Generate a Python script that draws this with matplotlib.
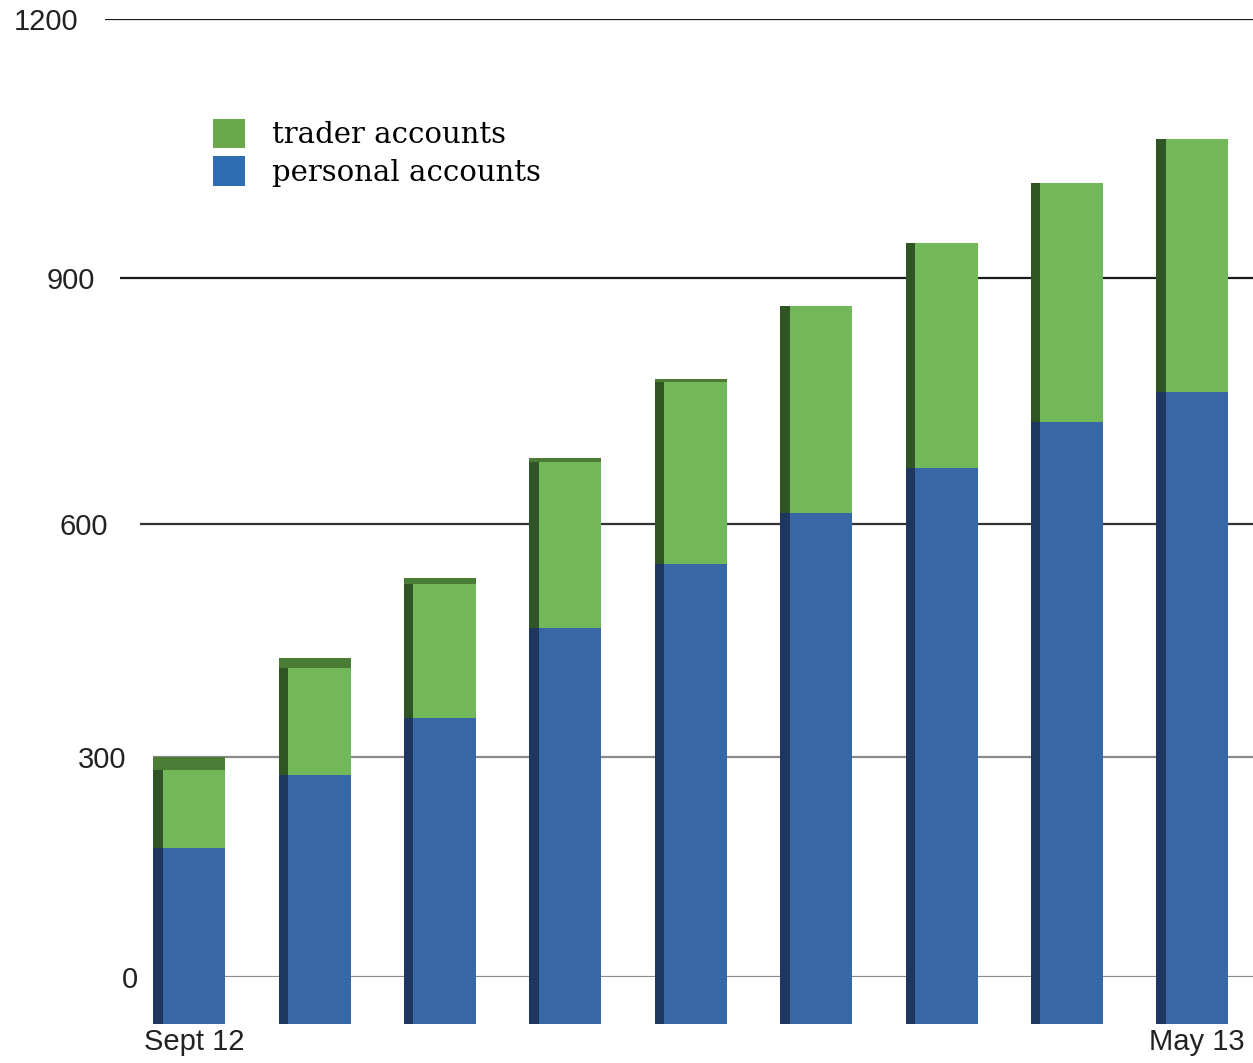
import numpy as np
import matplotlib
matplotlib.use('Agg')
import matplotlib.pyplot as plt
from matplotlib.patches import Patch

# monthly account counts, Sept 12 .. May 13
months = ['Sept 12', 'Oct 12', 'Nov 12', 'Dec 12', 'Jan 13',
          'Feb 13', 'Mar 13', 'Apr 13', 'May 13']
personal = [225, 316, 386, 494, 569, 629, 681, 734, 768]
trader = [97, 130, 160, 194, 210, 235, 253, 266, 280]

grid_vals = [0, 300, 600, 900, 1200]

# styling (perspective look of the original 3D chart)
label_right = [138, 126, 108, 95, 78]     # pixel x of tick label right edges
grid_start = [165, 153, 140, 120, 105]    # pixel x where each gridline starts
grid_colors = ['#8a8a8a', '#8a8a8a', '#333333', '#1a1a1a', '#1a1a1a']
cap_h = [16, 12, 7, 5, 4, 0, 0, 0, 0]     # visible top faces of the short bars

GREEN, BLUE = '#73b75b', '#3867a7'
DARK_GREEN, DARK_BLUE = '#2f5524', '#1d3760'
CAP_GREEN = '#4a7c36'

W, H = 1253, 1063


def fwd(v):
    u = np.asarray(v, dtype=float) / 300.0
    return 213.5 * u + 6.5 * u ** 2


def inv(y):
    y = np.asarray(y, dtype=float)
    return 300.0 * (-213.5 + np.sqrt(np.maximum(213.5 ** 2 + 26.0 * y, 0))) / 13.0


fig = plt.figure(figsize=(W / 100, H / 100), dpi=100)

# back wall: gridlines + value labels
ax_back = fig.add_axes([0, 86 / H, 1, fwd(1200) / H])
ax_back.set_yscale('function', functions=(fwd, inv))
ax_back.set_xlim(0, W)
ax_back.set_ylim(0, 1200)
ax_back.axis('off')
ax_back.hlines(grid_vals, grid_start, W, colors=grid_colors, lw=1.6)
for v, xr in zip(grid_vals, label_right):
    ax_back.text(xr, v, str(v), ha='right', va='center_baseline', fontsize=21,
                 family='Liberation Sans', color='#222222')

# front plane: the bars (a bit closer, so a slightly larger scale)
k = 1.073
ytop = 1100
x = np.arange(len(months))
unit = (1197 - 194) / 8.0
ax_front = fig.add_axes([0, 39 / H, 1, k * fwd(ytop) / H])
ax_front.set_yscale('function', functions=(fwd, inv))
ax_front.set_xlim(-194 / unit, (W - 194) / unit)
ax_front.set_ylim(0, ytop)
ax_front.patch.set_visible(False)
for s in ax_front.spines.values():
    s.set_visible(False)
ax_front.set_yticks([])

total = np.array(personal) + np.array(trader)
bw, sw = 0.5, 0.075
ax_front.bar(x - bw / 2 - sw / 2, personal, width=sw, color=DARK_BLUE, lw=0)
ax_front.bar(x - bw / 2 - sw / 2, trader, bottom=personal, width=sw, color=DARK_GREEN, lw=0)
ax_front.bar(x, personal, width=bw, color=BLUE, lw=0)
ax_front.bar(x, trader, bottom=personal, width=bw, color=GREEN, lw=0)
ax_front.bar(x - sw / 2, cap_h, bottom=total, width=bw + sw, color=CAP_GREEN, lw=0)

ax_front.set_xticks([x[0], x[-1]])
ax_front.set_xticklabels([months[0], months[-1]], fontsize=21,
                         family='Liberation Sans', color='#222222')
ax_front.tick_params(axis='x', length=0, pad=3)

handles = [Patch(facecolor='#69a94c'), Patch(facecolor='#2e6db2')]
fig.legend(handles, ['trader accounts', 'personal accounts'], loc='upper left',
           bbox_to_anchor=(213 / W, 1 - 119 / H), bbox_transform=fig.transFigure,
           frameon=False, borderpad=0, borderaxespad=0,
           prop={'family': 'DejaVu Serif', 'size': 21},
           handlelength=1.1, handleheight=1.16, labelspacing=0.24,
           handletextpad=0.92)

fig.savefig('out.png', dpi=100, facecolor='white')
